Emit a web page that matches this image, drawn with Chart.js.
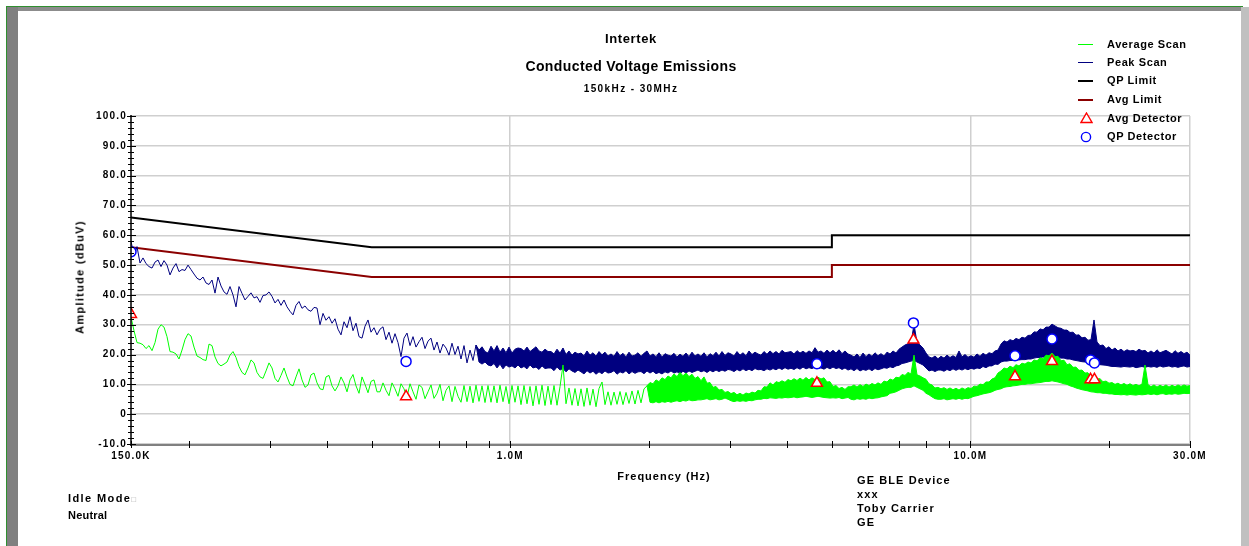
<!DOCTYPE html>
<html>
<head>
<meta charset="utf-8">
<title>Conducted Voltage Emissions</title>
<script src="https://cdn.jsdelivr.net/npm/chart.js@4.4.1/dist/chart.umd.min.js"></script>
<style>
  html, body { margin: 0; padding: 0; background: #fff; }
  #page {
    position: relative; width: 1249px; height: 546px; overflow: hidden;
    font-family: "Liberation Sans", Arial, sans-serif; font-weight: bold; color: #000;
  }
  #page canvas { position: absolute; left: 0; top: 0; }
  .t { position: absolute; line-height: 1; white-space: nowrap; }
  .c { text-align: center; width: 400px; }
  .lg { font-size: 11px; letter-spacing: 0.6px; left: 1107px; }
  .sw { position: absolute; left: 1078px; width: 15px; }
  .mk { position: absolute; left: 1080px; }
  .note { font-size: 11px; letter-spacing: 1.1px; }
  /* window frame */
  .fr { position: absolute; }
</style>
</head>
<body>
<div id="page">
  <canvas id="emiChart" width="1249" height="546"></canvas>

  <div class="fr" style="left:6px;top:6px;width:1237px;height:1px;background:#2f8f2f"></div>
  <div class="fr" style="left:6px;top:6px;width:1px;height:540px;background:#2f8f2f"></div>
  <div class="fr" style="left:7px;top:7px;width:1236px;height:4px;background:#8c8c8c"></div>
  <div class="fr" style="left:7px;top:7px;width:11px;height:539px;background:#808080"></div>
  <div class="fr" style="left:1241px;top:7px;width:8px;height:539px;background:#c0c0c0"></div>

  <div class="t c" style="left:431px;top:31.5px;font-size:13px;letter-spacing:0.6px">Intertek</div>
  <div class="t c" style="left:431px;top:58.7px;font-size:14px;letter-spacing:0.4px">Conducted Voltage Emissions</div>
  <div class="t c" style="left:431px;top:84px;font-size:10px;letter-spacing:1.4px">150kHz - 30MHz</div>

  <div class="sw" style="top:43.5px;height:1.3px;background:#00ff00"></div>
  <div class="t lg" style="top:38.5px">Average Scan</div>
  <div class="sw" style="top:61.5px;height:1.3px;background:#000080"></div>
  <div class="t lg" style="top:56.5px">Peak Scan</div>
  <div class="sw" style="top:79.7px;height:2px;background:#000"></div>
  <div class="t lg" style="top:75.2px">QP Limit</div>
  <div class="sw" style="top:98.7px;height:2px;background:#8b0000"></div>
  <div class="t lg" style="top:94.2px">Avg Limit</div>
  <svg class="mk" style="top:112px" width="13" height="12"><polygon points="6.5,1 12,10.5 1,10.5" fill="#fff" stroke="#ff0000" stroke-width="1.4"/></svg>
  <div class="t lg" style="top:112.5px">Avg Detector</div>
  <svg class="mk" style="top:131px" width="13" height="12"><circle cx="6" cy="6" r="4.6" fill="#fff" stroke="#0000ff" stroke-width="1.4"/></svg>
  <div class="t lg" style="top:131.2px">QP Detector</div>

  <div class="t" style="left:80px;top:276.7px;font-size:11px;letter-spacing:1.3px;transform:translate(-50%,-50%) rotate(-90deg)">Amplitude (dBuV)</div>
  <div class="t c" style="left:464px;top:471px;font-size:11px;letter-spacing:1px">Frequency (Hz)</div>

  <div class="t note" style="left:857px;top:474.5px">GE BLE Device</div>
  <div class="t note" style="left:857px;top:488.5px">xxx</div>
  <div class="t note" style="left:857px;top:502.5px">Toby Carrier</div>
  <div class="t note" style="left:857px;top:516.5px">GE</div>

  <div class="t note" style="left:68px;top:493px;letter-spacing:1.4px">Idle Mode<span style="font-size:8px;color:#aaa;font-weight:normal;letter-spacing:0">&#9633;</span></div>
  <div class="t note" style="left:68px;top:509.5px;letter-spacing:0.2px">Neutral</div>
</div>

<script>
// receiver sweep: log-spaced steps from 150 kHz to 30 MHz (values in MHz)
const sweepStart = 0.15;
const sweepStop = 30;
const sweepSteps = 354;
const sweepFreqs = Array.from({ length: sweepSteps }, (_, i) =>
  sweepStart * Math.pow(sweepStop / sweepStart, i / (sweepSteps - 1)));

// peak scan, dBuV per sweep step (top of the noise band once it turns dense)
const peakScan = [
  58, 53, 56.2, 50.7, 52.4, 50.5, 49.5, 49, 51, 51.7,
  49.5, 51.5, 50, 46.7, 49, 50.5, 47.8, 48.5, 48.2, 50,
  48.5, 47, 45.6, 45, 46, 44, 43.5, 45, 40.6, 46,
  43, 41, 40.2, 42.8, 40, 36, 42.8, 40.5, 38.3, 39.5,
  40.7, 39, 39.4, 37.5, 39.8, 40, 41, 39.5, 37.3, 38.5,
  36.5, 38.3, 36, 34.5, 33.3, 36.5, 37.8, 35.5, 36.3, 35,
  34.5, 35.8, 35.6, 30, 33.8, 31.5, 32.7, 30.5, 32, 28.5,
  26.6, 31, 29, 32.7, 28, 30.5, 26, 25.5, 29.5, 31.6,
  27.5, 29, 26.6, 28.5, 29.3, 25, 27.5, 23.8, 27, 24,
  19.3, 25.5, 27.2, 23, 26, 22.5, 24.3, 25.8, 22, 24.5,
  25.5, 21.5, 24.2, 20.5, 23.5, 22.2, 19.8, 23.8, 20, 22.8,
  18.5, 23, 17.2, 21.5, 18, 23.2, 21.5, 22.6, 21, 20.5,
  22.8, 21.2, 23, 20.8, 22.2, 20.6, 22.5, 20.5, 21.8, 22.2,
  22, 21.2, 22.5, 21, 21.8, 22.6, 21.2, 20.8, 21.8, 21,
  21, 20.2, 21.8, 20.5, 22.2, 20, 21.2, 19.8, 20.8, 20.2,
  20.5, 19.6, 21.2, 19.8, 20.6, 19.4, 21, 19.9, 20.8, 19.5,
  20.2, 19.4, 21, 19.6, 20.4, 19.2, 20.8, 19.5, 19.8, 20.6,
  19.4, 20.4, 21.2, 19.5, 20.2, 19.3, 20.6, 19.2, 20.3, 19.8,
  19.5, 20.4, 19.2, 20.1, 19.4, 20.5, 19.3, 20.8, 19.5, 20.2,
  19.4, 20.6, 19.2, 20.3, 19.6, 20.8, 19.5, 21, 19.7, 20.6,
  20.2, 19.5, 21, 19.8, 20.6, 19.6, 21.2, 20, 20.8, 20.2,
  19.8, 21, 20.1, 21.2, 20.3, 21, 20.2, 21.4, 20.6, 20.8,
  21, 20.2, 21.3, 20.5, 21.1, 20.4, 21.2, 20.6, 22.3, 20.8,
  21.2, 20.4, 21.5, 20.6, 21.4, 20.5, 21.6, 20.3, 21.2, 20.2,
  19.8, 19.2, 20.2, 19, 20.5, 19.3, 20.2, 19.4, 20.6, 19.6,
  20.3, 19.5, 20.8, 20.2, 21.2, 20.5, 21.8, 22.5, 23.2, 23.6,
  23.8, 30.2, 24, 23.2, 22.2, 20.5, 19.2, 18.8, 19.5, 18.6,
  19.4, 18.8, 19.8, 19, 19.6, 19, 21.2, 19.2, 20, 19.1,
  19.6, 19.1, 20.2, 19.4, 20.4, 19.8, 20.6, 20.3, 21.2, 21.5,
  23.5, 24.6, 24.2, 25, 24.6, 25.4, 25, 25.8, 25.5, 26.4,
  26.5, 27.6, 27.5, 28.6, 28.3, 29.2, 29.2, 30.2, 29.6, 29,
  28.8, 28.2, 28.2, 27.4, 27.5, 26.5, 26.6, 25.6, 25.8, 24.8,
  25, 31.6, 24.2, 23, 23.2, 22, 22.6, 21.5, 22.2, 21.2,
  21.8, 21, 21.6, 21.2, 21.4, 21, 21.8, 21.2, 21.4, 20.5,
  21.2, 20.5, 21.6, 20.6, 21, 21.4, 20.8, 20.2, 21.3, 20.4,
  21, 20.3, 20.8, 19.8
];

// peak scan, bottom of the noise band from step 115 on
const peakFloorStart = 115;
const peakFloor = [
  23.2, 17.5, 16.8, 17.5, 16.5,
  16.2, 17, 15.5, 16.8, 15.2, 16.5, 15.8, 16.2, 15.5, 16.5,
  15.5, 16, 15.2, 16.5, 15.5, 15.8, 15, 16.2, 15.3, 15.5,
  15.5, 14.6, 15.8, 14.8, 15.3, 14.2, 15.2, 14.5, 14, 14.8,
  14.2, 13.5, 14.6, 13.8, 14.4, 13.4, 14.2, 13.6, 14.5, 13.8,
  14, 14.6, 13.4, 14.2, 13.8, 14.6, 13.5, 14.3, 13.7, 14.2,
  14.3, 13.6, 14.5, 13.8, 14.4, 13.6, 14, 13.5, 14.2, 13.8,
  14.5, 13.8, 14.2, 13.6, 14.4, 13.8, 14.5, 14, 14.4, 14.8,
  14.2, 14.6, 14, 14.7, 14.2, 14.8, 14.3, 14.8, 14.4, 15,
  14.8, 14.3, 15, 14.5, 15.2, 14.6, 15.1, 14.6, 15.3, 14.9,
  15, 14.6, 15.2, 14.8, 15.3, 14.9, 15.5, 15, 15.6, 15.1,
  15.4, 15, 15.6, 15.1, 15.8, 15.2, 15.6, 15.3, 15.8, 15.4,
  15.5, 15.1, 15.7, 15.2, 15.8, 15.3, 15.6, 15, 15.5, 14.8,
  15.2, 14.6, 15.3, 14.5, 15, 14.7, 15.2, 14.6, 15.3, 14.9,
  15.2, 15.6, 15.4, 15.9, 15.6, 16.2, 16.4, 17, 17.2, 17.5,
  17.8, 18, 17.5, 17, 16.5, 15.5, 14.5, 14.8, 14.3, 14.8,
  14.8, 14.4, 15, 14.6, 15.2, 14.7, 15.2, 14.8, 15.3, 14.9,
  15.4, 15.1, 15.5, 15.3, 16, 15.6, 16.2, 16.2, 16.8, 16.7,
  17.5, 17.8, 17.8, 18, 18, 18.2, 18.2, 18.3, 18.3, 18.5,
  18.5, 18.8, 19, 19, 19.2, 19, 19.5, 19.5, 19.2, 19,
  18.8, 18.8, 18.5, 18.5, 18.2, 18, 17.8, 17.6, 17.5, 17.3,
  17.2, 17, 16.8, 16.6, 16.5, 16.4, 16.2, 16, 16, 15.9,
  15.8, 16, 15.9, 15.8, 16, 15.6, 15.8, 16, 15.7, 16,
  15.8, 16, 15.7, 16.2, 15.8, 16, 16.2, 15.8, 16, 15.7,
  16, 16.2, 15.8, 16
];

// average scan, dBuV per sweep step (top of the band once it turns dense)
const averageScan = [
  32.6, 28, 24, 23.8, 23.3, 22, 23, 21.3, 24, 28.5,
  30, 29.2, 26, 21, 20.8, 20.2, 18.5, 21.5, 25, 27,
  26.2, 22.5, 19.5, 19, 18.3, 18, 23.5, 23, 19.2, 17,
  16.2, 16.8, 17.5, 19.8, 21, 19, 16, 14, 13.2, 15.5,
  18.2, 17.2, 14, 12.5, 12, 14.5, 17.2, 15.5, 12, 10.8,
  13, 15.5, 12.5, 10, 9.5, 12.5, 15.2, 11.5, 9, 9.8,
  13.2, 13.8, 10.5, 8.5, 8.2, 12.5, 13, 9.5, 7.8, 9.5,
  12.5, 10.5, 7.5, 11.5, 13.3, 9.5, 7, 12.5, 10, 7.2,
  11, 11.5, 7.5, 7.5, 10.5, 8, 6.2, 10.5, 8.5, 6,
  10.2, 8.5, 5.8, 10.2, 7.5, 5, 9.8, 9, 5.2, 7.5,
  9.8, 5.3, 7, 10, 4.5, 8, 9.5, 4.2, 9.3, 6,
  4, 9.6, 4.2, 9.4, 3.8, 9.7, 4.3, 9.5, 3.9, 9.6,
  4, 9.5, 3.8, 9.7, 4.2, 9.3, 3.5, 9.6, 4, 9.5,
  3.2, 9.6, 3.5, 9.3, 2.8, 9.5, 3.3, 9.7, 2.9, 9.4,
  3.2, 9.6, 3, 9.2, 16.5, 3.5, 8.8, 3, 8.6, 2.8,
  8.5, 2.6, 8.8, 3, 8.4, 2.5, 8.6, 10.8, 3.2, 7.5,
  3, 7.4, 3.3, 7.6, 3.2, 7.3, 3.6, 7.8, 3.4, 8,
  3.8, 8.5, 9.5, 10.6, 10.2, 11.5, 10.9, 12.2, 11.6, 12.8,
  12.2, 13.5, 12.6, 14, 12.9, 13.8, 12.6, 13.4, 12, 12.6,
  11.2, 12.5, 10.4, 10.6, 9, 9.3, 8.1, 8.3, 7.3, 7.6,
  6.9, 7.3, 6.5, 7, 6.4, 7.1, 6.8, 7.4, 7.1, 8,
  7.8, 9.2, 9.1, 10.5, 9.8, 10.9, 10.6, 11.2, 10.7, 11.6,
  11.2, 11.9, 11.3, 12.1, 11.4, 12.3, 11.5, 12.2, 11.6, 12.4,
  11.8, 12.2, 10.8, 10.9, 9.3, 9.6, 8.6, 9, 8.3, 9.2,
  9.2, 9.8, 9.1, 9.9, 9.3, 10.1, 9.6, 10.3, 9.8, 10.5,
  10, 11.1, 10.8, 11.8, 11.4, 12.4, 12.2, 13.3, 13, 14,
  13.5, 19.8, 13.2, 12.8, 12.2, 11.7, 10.2, 9.8, 8.8, 9,
  8.5, 8.9, 8.3, 8.8, 8.2, 8.7, 8.1, 8.8, 8.3, 8.9,
  8.6, 9.4, 9.3, 10.1, 9.9, 10.8, 10.8, 11.8, 12.2, 13.8,
  14.5, 15.5, 15.2, 16.1, 15.6, 16.6, 16.2, 17.1, 16.8, 17.5,
  17.2, 18.2, 17.9, 18.9, 18.6, 19.8, 19.6, 20.5, 19.3, 19.4,
  17.9, 18.1, 16.6, 16.9, 15.7, 15.8, 14.7, 14.8, 13.8, 13.9,
  12.8, 12.9, 11.8, 11.9, 10.9, 11.1, 10.4, 10.6, 10, 10.4,
  9.8, 10.3, 9.7, 10.2, 9.6, 10, 9.5, 10.1, 16.5, 9.9,
  9.2, 9.8, 9.1, 9.7, 9.2, 9.8, 9.1, 9.7, 9.2, 9.8,
  9.3, 9.8, 9.4, 9.6
];

// average scan, bottom of the band from step 172 on
const averageFloorStart = 172;
const averageFloor = [
  9.5, 4, 3.8, 4.2, 3.8, 4.2, 4, 4.3,
  4, 4.3, 4.5, 4.2, 4.6, 4.4, 4.8, 4.5, 4.6, 4.8,
  4.8, 5, 5.2, 4.8, 5, 5.2, 4.8, 5, 5.4, 5,
  4.5, 4.2, 4.5, 4.3, 4.5, 4.3, 4.6, 4.5, 4.8, 5,
  5, 5.3, 5.2, 5.5, 5.4, 5.3, 5.5, 5.4, 5.6, 5.5,
  5.6, 5.8, 5.5, 5.7, 5.8, 6, 5.8, 5.6, 5.8, 6,
  5.8, 5.6, 5.5, 5.4, 5.5, 5.4, 5.6, 5.2, 5.4, 5.6,
  5, 4.8, 5.2, 5, 5.2, 5, 5.4, 5.2, 5.4, 5.5,
  5.8, 6, 6.2, 7, 7.2, 7.5, 8, 8.5, 8.8, 9,
  9, 9.5, 9, 8.5, 8, 7, 6.5, 5.8, 5.2, 5,
  5, 5.2, 4.8, 5, 5.2, 5, 5.3, 5, 5.3, 5.2,
  5.6, 6, 6.2, 6.5, 6.8, 7, 7.2, 7.5, 8, 8.3,
  8.5, 9, 9.2, 9.3, 9.5, 9.6, 9.8, 10, 10, 10.2,
  10.2, 10.4, 10.5, 10.6, 10.8, 11, 11, 11.2, 11, 10.8,
  10.5, 10.2, 10, 9.5, 9.2, 8.8, 8.5, 8.2, 8, 7.8,
  7.5, 7.4, 7.2, 7.2, 7, 7, 6.8, 6.8, 6.6, 6.6,
  6.5, 6.6, 6.4, 6.6, 6.5, 6.4, 6.6, 6.5, 6.6, 6.8,
  6.6, 6.8, 6.5, 6.8, 6.9, 6.6, 6.8, 6.7, 6.9, 6.7,
  6.8, 7, 6.9, 7
];

// limit lines (class B mains port)
const limitFreqs = [0.15, 0.5, 5, 5, 30];
const qpLimit    = [66, 56, 56, 60, 60];
const avgLimit   = [56, 46, 46, 50, 50];

// final detector readings
const detectorFreqs = [0.15, 0.594, 4.64, 7.52, 12.5, 15.04, 18.24, 18.6];
const qpReadings    = [54.5, 17.7, 16.9, 30.6, 19.6, 25.2, 18.2, 17.2];
const avgReadings   = [33.5, 5.9, 10.4, 24.9, 12.6, 17.7, 11.6, 11.6];

// axes
const xTickValues = [0.15, 0.2, 0.3, 0.4, 0.5, 0.6, 0.7, 0.8, 0.9, 1, 2, 3, 4, 5, 6, 7, 8, 9, 10, 20, 30];
const xTickLabels = ['150.0K', '', '', '', '', '', '', '', '', '1.0M', '', '', '', '', '', '', '', '', '10.0M', '', '30.0M'];
const xGridValues = [1, 10, 30];
const yMin = -10, yMax = 100, yMajorStep = 10, yMinorStep = 2;

const gridColor = '#cfcfcf';
const peakColor = '#000080';
const averageColor = '#00ff00';

const pairs = (xs, ys) => xs.map((x, i) => ({ x, y: ys[i] }));

const trace = (label, data, color, extra) => Object.assign({
  label, data, borderColor: color, backgroundColor: color,
  borderWidth: 1, pointRadius: 0, tension: 0,
}, extra);

// axis lines with crossing tick marks, drawn over the plot
const axisMarks = {
  id: 'axisMarks',
  beforeDraw(chart) {
    chart.ctx.letterSpacing = '1.2px';
  },
  afterDatasetsDraw(chart) {
    const { ctx, chartArea: a, scales: { x, y } } = chart;
    ctx.save();
    ctx.strokeStyle = '#808080';
    ctx.lineWidth = 2;
    ctx.beginPath();
    ctx.moveTo(a.left, a.bottom + 1);
    ctx.lineTo(a.right, a.bottom + 1);
    ctx.stroke();

    ctx.strokeStyle = '#000';
    ctx.lineWidth = 1;
    xTickValues.forEach((v) => {
      const px = Math.round(x.getPixelForValue(v)) + 0.5;
      ctx.beginPath();
      ctx.moveTo(px, a.bottom - 3);
      ctx.lineTo(px, a.bottom + 4);
      ctx.stroke();
    });

    ctx.lineWidth = 1.5;
    ctx.beginPath();
    ctx.moveTo(a.left, a.top - 1);
    ctx.lineTo(a.left, a.bottom + 2);
    ctx.stroke();

    ctx.lineWidth = 1;
    for (let v = yMin; v <= yMax; v += yMinorStep) {
      const py = Math.round(y.getPixelForValue(v)) + 0.5;
      const major = v % yMajorStep === 0;
      ctx.beginPath();
      ctx.moveTo(a.left - (major ? 4 : 3), py);
      ctx.lineTo(a.left + (major ? 5 : 3), py);
      ctx.stroke();
    }
    ctx.restore();
  },
};

new Chart(document.getElementById('emiChart'), {
  type: 'line',
  data: {
    datasets: [
      {
        label: 'Avg Detector',
        data: pairs(detectorFreqs, avgReadings),
        showLine: false,
        pointStyle: 'triangle',
        pointRadius: 6.3,
        pointBorderWidth: 1.5,
        pointBorderColor: '#ff0000',
        pointBackgroundColor: '#ffffff',
        clip: 0,
      },
      {
        label: 'QP Detector',
        data: pairs(detectorFreqs, qpReadings),
        showLine: false,
        pointStyle: 'circle',
        pointRadius: 5,
        pointBorderWidth: 1.5,
        pointBorderColor: '#0000ff',
        pointBackgroundColor: '#ffffff',
        clip: 0,
      },
      trace('Average Scan', pairs(sweepFreqs, averageScan), averageColor),
      trace('Average Scan floor', pairs(sweepFreqs.slice(averageFloorStart), averageFloor), averageColor, { fill: '-1' }),
      trace('Peak Scan', pairs(sweepFreqs, peakScan), peakColor),
      trace('Peak Scan floor', pairs(sweepFreqs.slice(peakFloorStart), peakFloor), peakColor, { fill: '-1' }),
      trace('QP Limit', pairs(limitFreqs, qpLimit), '#000000', { borderWidth: 2 }),
      trace('Avg Limit', pairs(limitFreqs, avgLimit), '#8b0000', { borderWidth: 2 }),
    ],
  },
  options: {
    responsive: false,
    animation: false,
    devicePixelRatio: 1,
    events: [],
    layout: { padding: { left: 0, top: 116, right: 59, bottom: 0 } },
    plugins: {
      legend: { display: false },
      tooltip: { enabled: false },
    },
    scales: {
      x: {
        type: 'logarithmic',
        min: sweepStart,
        max: sweepStop,
        afterBuildTicks: (scale) => { scale.ticks = xTickValues.map((value) => ({ value })); },
        afterFit: (scale) => { scale.height = 102; },
        ticks: {
          autoSkip: false,
          maxRotation: 0,
          padding: 6,
          color: '#000',
          font: { family: '"Liberation Sans", Arial, sans-serif', size: 10, weight: 'bold' },
          callback: (value, index) => xTickLabels[index],
        },
        grid: {
          drawTicks: false,
          lineWidth: 1.5,
          color: (ctx) => (ctx.tick && xGridValues.includes(ctx.tick.value) ? gridColor : 'rgba(0,0,0,0)'),
        },
        border: { display: false },
      },
      y: {
        min: yMin,
        max: yMax,
        afterFit: (scale) => { scale.width = 131; },
        ticks: {
          stepSize: yMajorStep,
          padding: 4,
          color: '#000',
          font: { family: '"Liberation Sans", Arial, sans-serif', size: 10, weight: 'bold' },
          callback: (value) => (value === 0 ? '0' : value.toFixed(1)),
        },
        grid: { drawTicks: false, lineWidth: 1.5, color: gridColor },
        border: { display: false },
      },
    },
  },
  plugins: [axisMarks],
});
</script>
</body>
</html>
